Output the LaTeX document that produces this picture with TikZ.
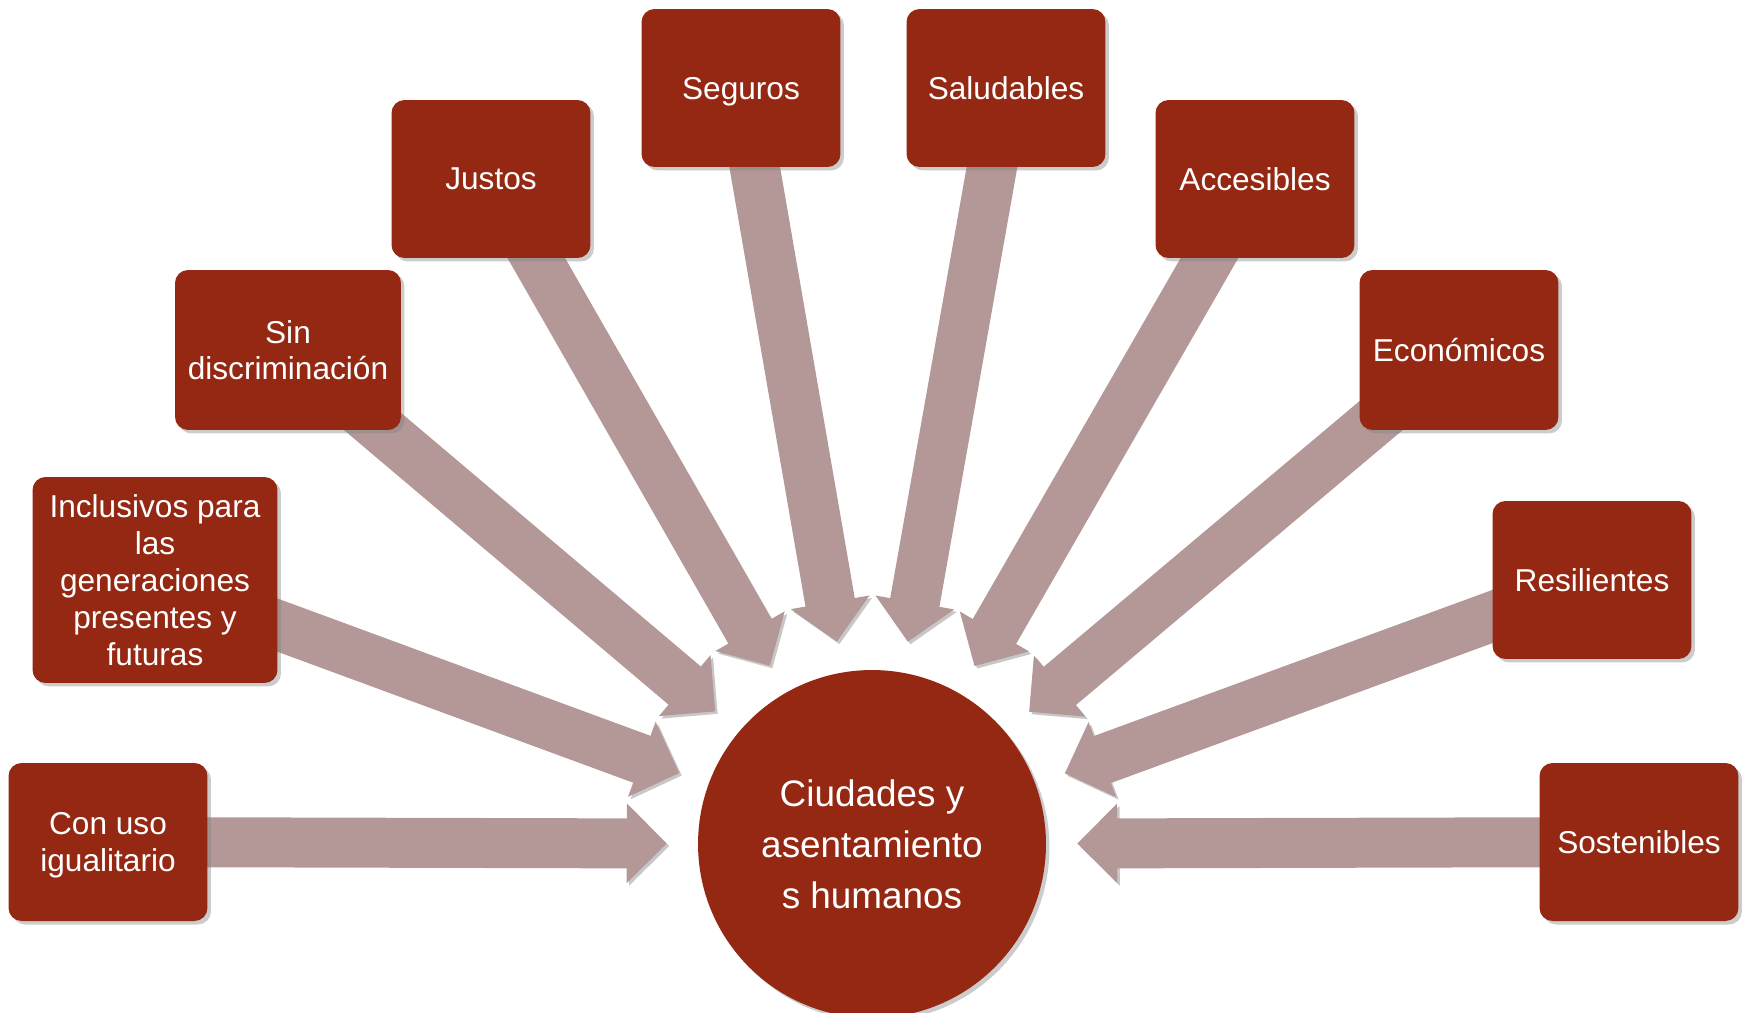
\documentclass[tikz,border=0pt]{standalone}
\usepackage{fontspec}
\setmainfont{Liberation Sans}
\usetikzlibrary{arrows.meta,shadows,backgrounds}

\definecolor{rojo}{RGB}{148,40,18}
\definecolor{rosa}{RGB}{180,152,152}

\tikzset{
	caja/.style={rectangle, rounded corners=0.26cm, fill=rojo, text=white, align=center,
		minimum width=3.98cm, minimum height=3.16cm, inner sep=2pt, text depth=0pt,
		font=\fontsize{18}{21}\selectfont,
		drop shadow={shadow xshift=0.07cm, shadow yshift=-0.07cm, opacity=0.4}},
	flecha/.style={draw=rosa, line width=1.0cm, -{Triangle[length=0.8cm, width=1.55cm]},
		shorten >=0.62cm,
		preaction={draw=black!22, transform canvas={shift={(0.05cm,-0.05cm)}}}}
}

\begin{document}
\begin{tikzpicture}[x=0.02cm, y=-0.02cm]
	\useasboundingbox (0,0) rectangle (1745,1012);

	\node[circle, fill=rojo, text=white, align=center, minimum size=6.96cm, inner sep=0pt,
		font=\fontsize{21}{29}\selectfont,
		drop shadow={shadow xshift=0.07cm, shadow yshift=-0.07cm, opacity=0.4}]
		(hub) at (872,844) {Ciudades y\\asentamiento\\s humanos};

	\node[caja] (con) at (108,842) {Con uso\\igualitario};
	\node[caja, minimum width=4.9cm, minimum height=4.12cm] (inc) at (155,580)
		{Inclusivos para\\las\\generaciones\\presentes y\\futuras};
	\node[caja, minimum width=4.52cm, minimum height=3.2cm] (sin) at (288,350) {Sin\\discriminación};
	\node[caja] (jus) at (491,179) {Justos};
	\node[caja] (seg) at (741,88) {Seguros};
	\node[caja] (sal) at (1006,88) {Saludables};
	\node[caja] (acc) at (1255,179) {Accesibles};
	\node[caja, minimum height=3.2cm] (eco) at (1459,350) {Económicos};
	\node[caja] (res) at (1592,580) {Resilientes};
	\node[caja] (sos) at (1639,842) {Sostenibles};

	\begin{scope}[on background layer]
		\foreach \n in {con,inc,sin,jus,seg,sal,acc,eco,res,sos}
			\draw[flecha] (\n.center) -- (hub);
	\end{scope}
\end{tikzpicture}
\end{document}
